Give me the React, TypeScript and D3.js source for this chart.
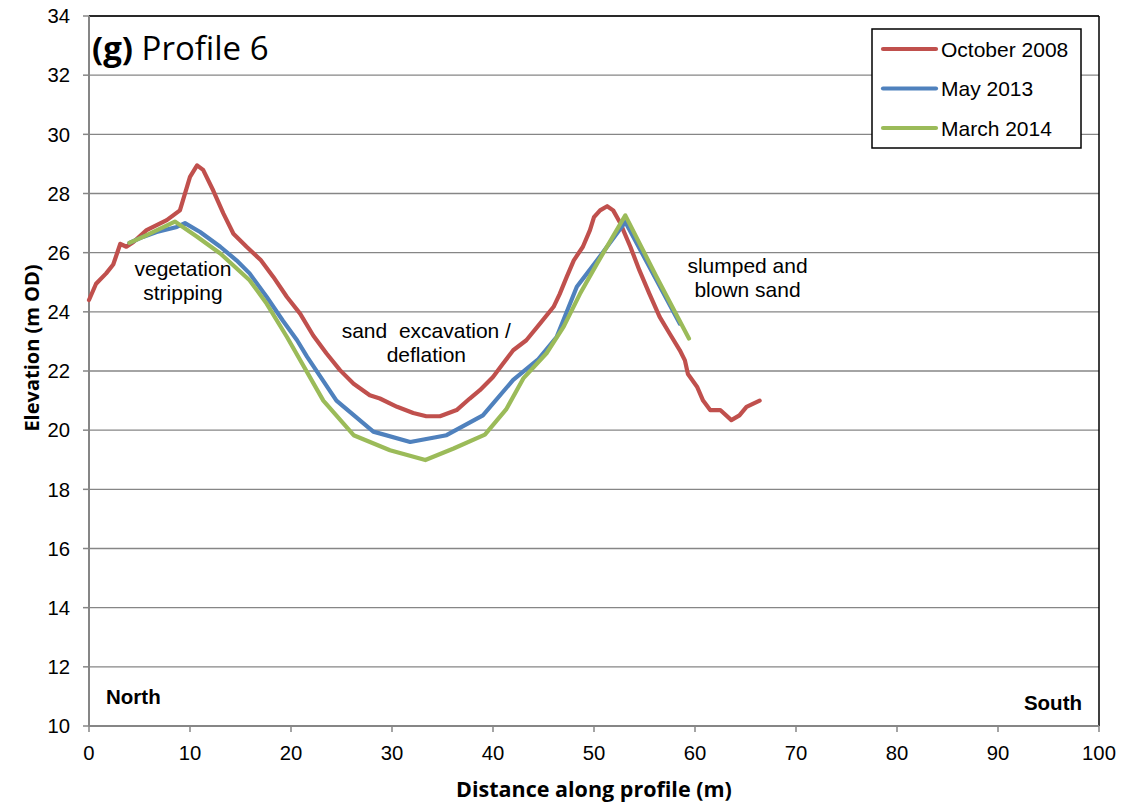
import React from "react";
import * as d3 from "d3";

// Profile 6 elevations: [distance (m), elevation (m OD)]
const october2008 = [
  [0, 24.4], [0.7, 24.95], [1.7, 25.3], [2.4, 25.6], [3.1, 26.3], [3.7, 26.2],
  [4.4, 26.36], [5.7, 26.76], [6.7, 26.93], [7.7, 27.1], [9.0, 27.43], [9.3, 27.77],
  [10.0, 28.56], [10.7, 28.95], [11.3, 28.8], [12.3, 28.1], [13.3, 27.33], [14.3, 26.64],
  [15.6, 26.2], [17.0, 25.75], [18.25, 25.18], [19.6, 24.5], [20.9, 23.94], [22.2, 23.2],
  [23.5, 22.6], [24.85, 22.03], [26.2, 21.57], [27.8, 21.18], [28.8, 21.07], [30.5, 20.79],
  [32.1, 20.58], [33.4, 20.47], [34.75, 20.47], [36.4, 20.68], [37.7, 21.07], [38.7, 21.35],
  [40.0, 21.8], [41.0, 22.25], [42.0, 22.7], [43.3, 23.04], [44.65, 23.6], [46.0, 24.17],
  [46.6, 24.6], [47.3, 25.18], [48.0, 25.74], [48.9, 26.2], [49.6, 26.76], [50.0, 27.2],
  [50.6, 27.43], [51.3, 27.57], [51.9, 27.43], [52.6, 27.0], [53.6, 26.2], [54.5, 25.4],
  [55.5, 24.6], [56.5, 23.83], [57.5, 23.26], [58.5, 22.7], [59.0, 22.36], [59.3, 21.9],
  [60.2, 21.47], [60.8, 21.0], [61.5, 20.68], [62.5, 20.68], [63.6, 20.34], [64.4, 20.5],
  [65.1, 20.79], [66.4, 21.0],
];

const may2013 = [
  [4.0, 26.33], [5.4, 26.54], [6.7, 26.7], [8.7, 26.87], [9.5, 27.0], [11.0, 26.7],
  [13.0, 26.2], [14.6, 25.74], [15.9, 25.3], [17.6, 24.5], [19.2, 23.7], [20.6, 23.04],
  [21.6, 22.48], [24.5, 21.0], [28.15, 19.95], [31.8, 19.6], [35.4, 19.83], [39.0, 20.5],
  [42.0, 21.7], [44.5, 22.4], [46.3, 23.15], [48.3, 24.85], [50.3, 25.74], [53.1, 27.04],
  [58.5, 23.6],
];

const march2014 = [
  [4.0, 26.33], [5.4, 26.54], [8.5, 27.05], [10.7, 26.54], [13.0, 25.97], [15.9, 25.07],
  [17.6, 24.27], [19.6, 23.15], [23.2, 21.0], [26.2, 19.83], [29.8, 19.32], [33.3, 18.99],
  [36.1, 19.38], [39.2, 19.85], [41.3, 20.7], [43.0, 21.75], [45.3, 22.6], [47.0, 23.5],
  [48.6, 24.6], [50.3, 25.63], [53.1, 27.26], [56.2, 25.18], [59.4, 23.1],
];

const seriesNames = ["October 2008", "May 2013", "March 2014"];
const seriesColors = ["#C0504D", "#4F81BD", "#9BBB59"];
const seriesData = [october2008, may2013, march2014];

const xTicks = d3.range(0, 101, 10);
const yTicks = d3.range(10, 35, 2);

// annotation anchor = first line baseline, in data units
const annotations = [
  { lines: ["vegetation", "stripping"], x: 9.3, y: 25.2 },
  { lines: ["sand  excavation /", "deflation"], x: 33.4, y: 23.1 },
  { lines: ["slumped and", "blown sand"], x: 65.2, y: 25.3 },
];

const W = 1126;
const H = 807;
const margin = { left: 89, right: 27, top: 16, bottom: 81 };

export default function App() {
  const x = d3.scaleLinear().domain([0, 100]).range([margin.left, W - margin.right]);
  const y = d3.scaleLinear().domain([10, 34]).range([H - margin.bottom, margin.top]);
  const line = d3
    .line<number[]>()
    .x((d) => x(d[0]))
    .y((d) => y(d[1]));

  const axisGrey = "#868686";
  const font = "Liberation Sans, Arial, sans-serif";
  const titleFont = "Open Sans, Noto Sans, sans-serif";
  const x0 = x(0), x1 = x(100), yB = y(10), yT = y(34);

  return (
    <svg
      width={W}
      height={H}
      style={{ position: "absolute", left: 0, top: 0, background: "#fff" }}
      fontFamily={font}
    >
      <rect x={0} y={0} width={W} height={H} fill="#fff" />
      {/* gridlines */}
      {yTicks.map((t) => (
        <line key={"g" + t} x1={x0} x2={x1} y1={y(t)} y2={y(t)} stroke={axisGrey} strokeWidth={1.3} />
      ))}
      {/* plot border top/right */}
      <line x1={x0} x2={x1} y1={yT} y2={yT} stroke="#000" strokeWidth={1.5} />
      <line x1={x1} x2={x1} y1={yT} y2={yB} stroke="#000" strokeWidth={1.5} />

      {/* axes */}
      <line x1={x0} x2={x0} y1={yT} y2={yB} stroke={axisGrey} strokeWidth={2} />
      <line x1={x0} x2={x1} y1={yB} y2={yB} stroke={axisGrey} strokeWidth={2} />
      {yTicks.map((t) => (
        <g key={"y" + t}>
          <line x1={x0 - 6} x2={x0} y1={y(t)} y2={y(t)} stroke={axisGrey} strokeWidth={1.5} />
          <text x={x0 - 19} y={y(t)} dy="0.36em" textAnchor="end" fontSize={20.3} fill="#000">
            {t}
          </text>
        </g>
      ))}
      {xTicks.map((t) => (
        <g key={"x" + t}>
          <line x1={x(t)} x2={x(t)} y1={yB} y2={yB + 6} stroke={axisGrey} strokeWidth={1.5} />
          <text x={x(t)} y={yB + 34} textAnchor="middle" fontSize={20.3} fill="#000">
            {t}
          </text>
        </g>
      ))}

      {/* series */}
      {seriesData.map((d, i) => (
        <path
          key={seriesNames[i]}
          d={line(d as number[][]) || ""}
          fill="none"
          stroke={seriesColors[i]}
          strokeWidth={4.2}
          strokeLinejoin="round"
          strokeLinecap="round"
        />
      ))}

      {/* annotations */}
      {annotations.map((a, i) => (
        <text key={"a" + i} x={x(a.x)} y={y(a.y)} textAnchor="middle" fontSize={21} fill="#000">
          {a.lines.map((l, j) => (
            <tspan key={j} x={x(a.x)} dy={j === 0 ? 0 : 24} style={{ whiteSpace: "pre" }}>
              {l}
            </tspan>
          ))}
        </text>
      ))}
      <text x={106} y={704} fontSize={20.5} fontWeight="bold" fill="#000">North</text>
      <text x={1082} y={710} fontSize={20.5} fontWeight="bold" fill="#000" textAnchor="end">South</text>

      {/* title */}
      <text x={92} y={60} fontSize={33} fontFamily={titleFont} fill="#000">
        <tspan fontWeight="bold">(g)</tspan> Profile 6
      </text>

      {/* legend */}
      <rect x={872} y={29} width={209} height={119} fill="#fff" stroke="#000" strokeWidth={1.5} />
      {seriesNames.map((n, i) => (
        <g key={"l" + n} transform={`translate(0,${49 + i * 39.5})`}>
          <line x1={883} x2={936} y1={0} y2={0} stroke={seriesColors[i]} strokeWidth={4.2} strokeLinecap="round" />
          <text x={941} y={0} dy="0.36em" fontSize={21} fill="#000">{n}</text>
        </g>
      ))}

      {/* axis titles */}
      <text
        transform="translate(39,348) rotate(-90)"
        textAnchor="middle"
        fontSize={20}
        fontWeight="bold"
        fontFamily={titleFont}
        fill="#000"
      >
        Elevation (m OD)
      </text>
      <text
        x={594}
        y={797}
        textAnchor="middle"
        fontSize={21.5}
        fontWeight="bold"
        fontFamily={titleFont}
        fill="#000"
      >
        Distance along profile (m)
      </text>
    </svg>
  );
}
